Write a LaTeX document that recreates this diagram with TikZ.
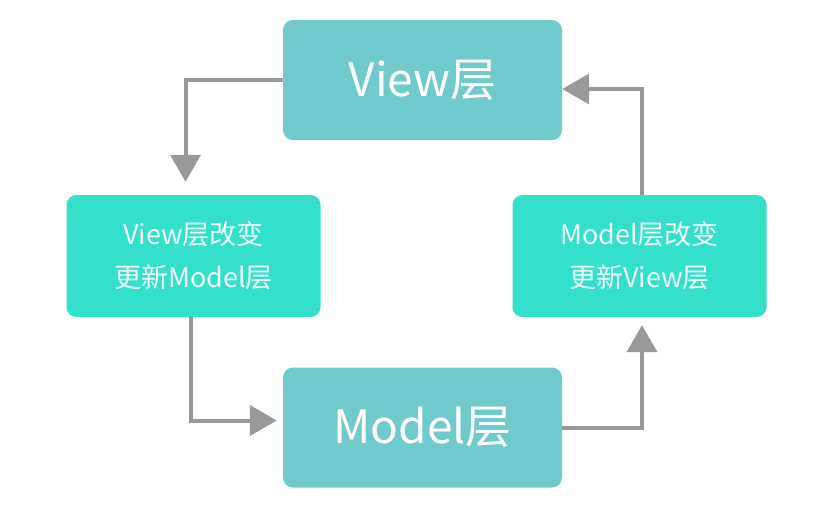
\documentclass[tikz,border=0pt]{standalone}
\usepackage{fontspec}
\setmainfont{Noto Sans CJK SC}
\usetikzlibrary{arrows.meta,calc}
\definecolor{boxA}{HTML}{70C9CB}
\definecolor{boxB}{HTML}{34E0C9}
\definecolor{arrgray}{HTML}{999999}
\begin{document}
\begin{tikzpicture}[x=1pt,y=-1pt,
  mainbox/.style={fill=boxA, rounded corners=10pt, minimum width=279pt, minimum height=120pt, text=white, font=\fontsize{46}{50}\selectfont, inner sep=0pt},
  sidebox/.style={fill=boxB, rounded corners=10pt, minimum width=254pt, minimum height=122pt, text=white!92!boxB, font=\fontsize{27}{43}\selectfont, align=center, inner sep=0pt},
  arr/.style={draw=arrgray, line width=4pt, -{Triangle[width=30pt,length=27pt]}, arrgray}
]
\useasboundingbox (0,0) rectangle (818,507);
\node[mainbox] (top) at (422.5,80) {View层};
\node[mainbox] (bottom) at (422.5,427.5) {Model层};
\node[sidebox] (left) at (193.5,256) {View层改变\\更新Model层};
\node[sidebox] (right) at (639.5,256) {Model层改变\\更新View层};
\draw[arr, shorten >=13pt] (top.west) -| ([xshift=-8pt]left.north);
\draw[arr] ([xshift=2.5pt]right.north) |- ([yshift=-9pt]top.east);
\draw[arr, shorten >=6pt] ([xshift=-2.5pt]left.south) |- ([yshift=7pt]bottom.west);
\draw[arr, shorten >=8pt] (bottom.east) -| ([xshift=2.5pt]right.south);
\end{tikzpicture}
\end{document}
